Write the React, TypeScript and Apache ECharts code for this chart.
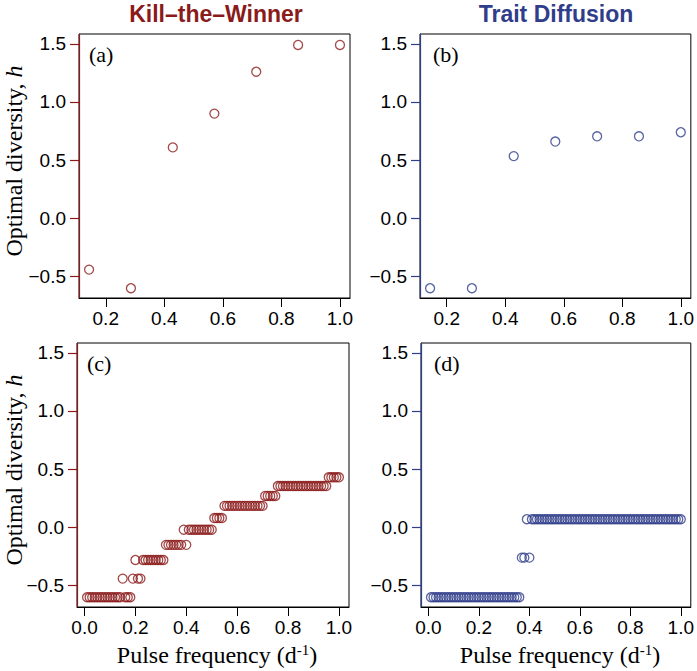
import React, { useEffect, useRef } from "react";
import * as echarts from "echarts";

// ---- data ----
const freqTop = [0.143, 0.286, 0.429, 0.571, 0.714, 0.857, 1.0];
const ktwTop = [-0.44, -0.6, 0.61, 0.9, 1.26, 1.49, 1.49];
const tdTop = [-0.6, -0.6, 0.535, 0.66, 0.705, 0.705, 0.74];

const freqBottom = [
  0.01, 0.02, 0.03, 0.04, 0.05, 0.06, 0.07, 0.08, 0.09, 0.1,
  0.11, 0.12, 0.13, 0.14, 0.15, 0.16, 0.17, 0.18, 0.19, 0.2,
  0.21, 0.22, 0.23, 0.24, 0.25, 0.26, 0.27, 0.28, 0.29, 0.3,
  0.31, 0.32, 0.33, 0.34, 0.35, 0.36, 0.37, 0.38, 0.39, 0.4,
  0.41, 0.42, 0.43, 0.44, 0.45, 0.46, 0.47, 0.48, 0.49, 0.5,
  0.51, 0.52, 0.53, 0.54, 0.55, 0.56, 0.57, 0.58, 0.59, 0.6,
  0.61, 0.62, 0.63, 0.64, 0.65, 0.66, 0.67, 0.68, 0.69, 0.7,
  0.71, 0.72, 0.73, 0.74, 0.75, 0.76, 0.77, 0.78, 0.79, 0.8,
  0.81, 0.82, 0.83, 0.84, 0.85, 0.86, 0.87, 0.88, 0.89, 0.9,
  0.91, 0.92, 0.93, 0.94, 0.95, 0.96, 0.97, 0.98, 0.99, 1.0,
];

const ktwBottom = [
  -0.6, -0.6, -0.6, -0.6, -0.6, -0.6, -0.6, -0.6, -0.6, -0.6,
  -0.6, -0.6, -0.6, -0.6, -0.44, -0.6, -0.6, -0.6, -0.44, -0.28,
  -0.44, -0.44, -0.28, -0.28, -0.28, -0.28, -0.28, -0.28, -0.28, -0.28,
  -0.28, -0.15, -0.15, -0.15, -0.15, -0.15, -0.15, -0.15, -0.02, -0.15,
  -0.02, -0.02, -0.02, -0.02, -0.02, -0.02, -0.02, -0.02, -0.02, -0.02,
  0.08, 0.08, 0.08, 0.08, 0.185, 0.185, 0.185, 0.185, 0.185, 0.185,
  0.185, 0.185, 0.185, 0.185, 0.185, 0.185, 0.185, 0.185, 0.185, 0.185,
  0.27, 0.27, 0.27, 0.27, 0.27, 0.355, 0.355, 0.355, 0.355, 0.355,
  0.355, 0.355, 0.355, 0.355, 0.355, 0.355, 0.355, 0.355, 0.355, 0.355,
  0.355, 0.355, 0.355, 0.355, 0.355, 0.43, 0.43, 0.43, 0.43, 0.43,
];

const tdBottom = [
  -0.6, -0.6, -0.6, -0.6, -0.6, -0.6, -0.6, -0.6, -0.6, -0.6,
  -0.6, -0.6, -0.6, -0.6, -0.6, -0.6, -0.6, -0.6, -0.6, -0.6,
  -0.6, -0.6, -0.6, -0.6, -0.6, -0.6, -0.6, -0.6, -0.6, -0.6,
  -0.6, -0.6, -0.6, -0.6, -0.6, -0.6, -0.26, -0.26, 0.07, -0.26,
  0.07, 0.07, 0.07, 0.07, 0.07, 0.07, 0.07, 0.07, 0.07, 0.07,
  0.07, 0.07, 0.07, 0.07, 0.07, 0.07, 0.07, 0.07, 0.07, 0.07,
  0.07, 0.07, 0.07, 0.07, 0.07, 0.07, 0.07, 0.07, 0.07, 0.07,
  0.07, 0.07, 0.07, 0.07, 0.07, 0.07, 0.07, 0.07, 0.07, 0.07,
  0.07, 0.07, 0.07, 0.07, 0.07, 0.07, 0.07, 0.07, 0.07, 0.07,
  0.07, 0.07, 0.07, 0.07, 0.07, 0.07, 0.07, 0.07, 0.07, 0.07,
];

const yTicks = [-0.5, 0, 0.5, 1.0, 1.5];
const xTicksTop = [0.2, 0.4, 0.6, 0.8, 1.0];
const xTicksBottom = [0, 0.2, 0.4, 0.6, 0.8, 1.0];
const panelLabels = ["(a)", "(b)", "(c)", "(d)"];
const columnTitles = ["Kill\u2013the\u2013Winner", "Trait Diffusion"];
const yTitle = "Optimal diversity, ";
const xTitle = "Pulse frequency (d";

const RED = "#8B1A1A";
const BLUE = "#2F3D8A";
const SANS = "'Liberation Sans', Arial, Helvetica, sans-serif";
const SERIF = "'Liberation Serif', 'Times New Roman', serif";

const grids = [
  { left: 79, top: 34, width: 271, height: 264 },
  { left: 420, top: 34, width: 272, height: 264 },
  { left: 77, top: 343, width: 272, height: 264 },
  { left: 421, top: 343, width: 270, height: 264 },
];
const panelColors = [RED, BLUE, RED, BLUE];

const pair = (xs: number[], ys: number[]) => xs.map((x, i) => [x, ys[i]]);
const fmt = (v: number) => v.toFixed(1).replace("-", "\u2212");

export default function App() {
  const ref = useRef<HTMLDivElement>(null);
  useEffect(() => {
    if (!ref.current) return;
    const chart = echarts.init(ref.current, undefined, { renderer: "svg" });
    const xAxes = grids.map((_, i) => {
      const top = i < 2;
      const ticks = top ? xTicksTop : xTicksBottom;
      return {
        type: "value",
        gridIndex: i,
        min: top ? 0.1086 : -0.0296,
        max: top ? 1.0343 : 1.0396,
        axisLine: { show: true, onZero: false, lineStyle: { color: "#000", width: 1 } },
        axisTick: { show: true, length: 9, customValues: ticks, lineStyle: { color: "#000", width: 1 } },
        axisLabel: {
          customValues: ticks,
          formatter: fmt,
          fontFamily: SANS,
          fontSize: 19,
          color: "#000",
          margin: 11,
        },
        splitLine: { show: false },
      };
    });
    const yAxes = grids.map((_, i) => ({
      type: "value",
      gridIndex: i,
      min: -0.684,
      max: 1.584,
      axisLine: { show: true, onZero: false, lineStyle: { color: panelColors[i], width: 1.2 } },
      axisTick: { show: true, length: 9, customValues: yTicks, lineStyle: { color: panelColors[i], width: 1.2 } },
      axisLabel: {
        customValues: yTicks,
        formatter: fmt,
        fontFamily: SANS,
        fontSize: 19,
        color: "#000",
        margin: 13,
      },
      splitLine: { show: false },
    }));
    const datasets = [
      pair(freqTop, ktwTop),
      pair(freqTop, tdTop),
      pair(freqBottom, ktwBottom),
      pair(freqBottom, tdBottom),
    ];
    const series = datasets.map((d, i) => ({
      type: "scatter",
      xAxisIndex: i,
      yAxisIndex: i,
      data: d,
      symbol: "circle",
      symbolSize: 9,
      itemStyle: { color: "rgba(0,0,0,0)", borderColor: panelColors[i], borderWidth: 1.3 },
      emphasis: { disabled: true },
    }));

    const graphic: any[] = [];
    graphic.push({
      type: "text",
      x: 216,
      y: 14,
      style: { text: columnTitles[0], fontFamily: SANS, fontWeight: "bold", fontSize: 23, fill: RED, align: "center", verticalAlign: "middle" },
    });
    graphic.push({
      type: "text",
      x: 556,
      y: 14,
      style: { text: columnTitles[1], fontFamily: SANS, fontWeight: "bold", fontSize: 23, fill: BLUE, align: "center", verticalAlign: "middle" },
    });
    grids.forEach((g, i) => {
      graphic.push({
        type: "text",
        x: g.left + (i % 2 === 0 ? 10 : 13),
        y: g.top + 20,
        style: { text: panelLabels[i], fontFamily: SERIF, fontSize: 22, fill: "#000", align: "left", verticalAlign: "middle" },
      });
    });
    [grids[0], grids[2]].forEach((g) => {
      graphic.push({
        type: "text",
        x: 14,
        y: g.top + g.height / 2 - 5,
        rotation: Math.PI / 2,
        style: {
          text: "{a|" + yTitle + "}{h|h}",
          align: "center",
          verticalAlign: "middle",
          rich: {
            a: { fontFamily: SERIF, fontSize: 24, fill: "#000" },
            h: { fontFamily: SERIF, fontSize: 24, fontStyle: "italic", fill: "#000" },
          },
        },
      });
    });
    [grids[2], grids[3]].forEach((g) => {
      graphic.push({
        type: "text",
        x: g.left + g.width / 2 + 4,
        y: 655,
        style: {
          text: "{a|" + xTitle + "}{s|-1}{a|)}",
          align: "center",
          verticalAlign: "middle",
          rich: {
            a: { fontFamily: SERIF, fontSize: 24, fill: "#000", lineHeight: 26 },
            s: { fontFamily: SERIF, fontSize: 15, fill: "#000", verticalAlign: "top", lineHeight: 26 },
          },
        },
      });
    });

    chart.setOption({
      animation: false,
      backgroundColor: "#fff",
      grid: grids.map((g) => ({ ...g, show: true, borderColor: "#000", borderWidth: 1, backgroundColor: "rgba(0,0,0,0)", containLabel: false })),
      xAxis: xAxes,
      yAxis: yAxes,
      series,
      graphic,
    });
    return () => chart.dispose();
  }, []);
  return (
    <div
      ref={ref}
      style={{ position: "fixed", left: 0, top: 0, width: 697, height: 671, background: "#fff" }}
    />
  );
}
